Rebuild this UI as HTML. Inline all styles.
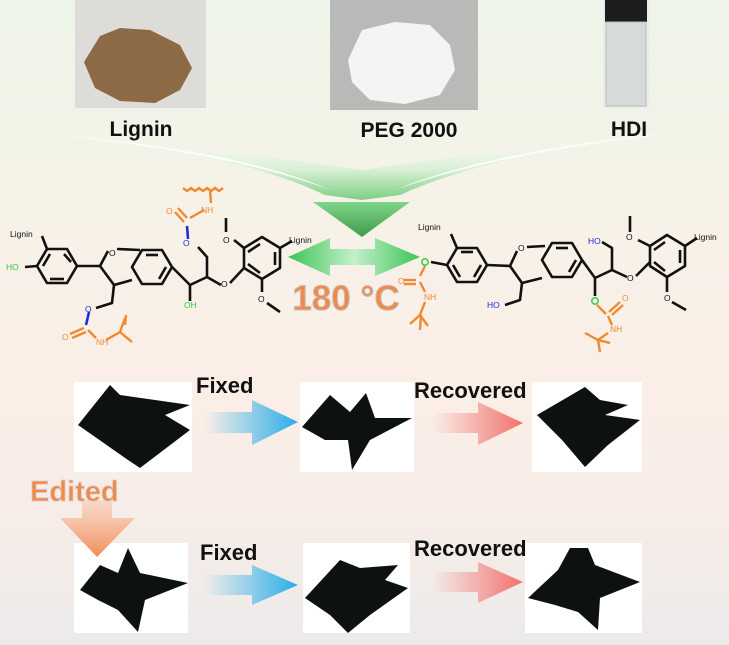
<!DOCTYPE html>
<html><head><meta charset="utf-8"><style>
html,body{margin:0;padding:0}
body{width:729px;height:645px;overflow:hidden;font-family:"Liberation Sans",Arial,sans-serif;
background:linear-gradient(#eef4e9 0px,#f4f3e8 150px,#f8f1e8 250px,#faeee6 400px,#f6ece8 520px,#ecebea 645px);}
</style></head><body>
<svg width="729" height="645" viewBox="0 0 729 645" xmlns="http://www.w3.org/2000/svg" style="position:absolute;left:0;top:0">
<defs>
<linearGradient id="fun" x1="0" y1="0" x2="0" y2="1"><stop offset="0" stop-color="#ffffff" stop-opacity="0.3"/><stop offset="0.55" stop-color="#d6efd4"/><stop offset="1" stop-color="#6fcb78"/></linearGradient>
<linearGradient id="gh" x1="0" y1="0" x2="0" y2="1"><stop offset="0" stop-color="#7fd68a"/><stop offset="1" stop-color="#3f9a4a"/></linearGradient>
<linearGradient id="dbl" x1="0" y1="0" x2="1" y2="0"><stop offset="0" stop-color="#3dc455"/><stop offset="0.5" stop-color="#c4f0cc"/><stop offset="1" stop-color="#3dc455"/></linearGradient>
<linearGradient id="blue" x1="0" y1="0" x2="1" y2="0"><stop offset="0" stop-color="#2eb0ea" stop-opacity="0"/><stop offset="1" stop-color="#29aee8"/></linearGradient>
<linearGradient id="red" x1="0" y1="0" x2="1" y2="0"><stop offset="0" stop-color="#f37a74" stop-opacity="0"/><stop offset="1" stop-color="#f2706c"/></linearGradient>
<linearGradient id="ora" x1="0" y1="0" x2="0" y2="1"><stop offset="0" stop-color="#f8c6a8" stop-opacity="0.5"/><stop offset="1" stop-color="#f28a55"/></linearGradient>
</defs>

<!-- photos -->
<rect x="75" y="0" width="131" height="108" fill="#dedcd9"/>
<path d="M84,62 L100,36 L120,28 L150,30 L180,45 L192,68 L180,90 L155,103 L120,101 L95,88 Z" fill="#8c6a45"/>
<rect x="330" y="0" width="148" height="110" fill="#b9b9b7"/>
<path d="M348,60 L362,30 L395,22 L430,25 L450,45 L455,70 L440,95 L405,104 L370,100 L352,82 Z" fill="#f4f4f2"/>
<rect x="603" y="0" width="46" height="108" fill="#e9ecea"/>
<rect x="605" y="0" width="42" height="22" fill="#1c1c1c"/>
<rect x="606" y="22" width="40" height="84" fill="#d6dad8" stroke="#b8bcbb"/>

<g font-weight="bold" font-size="21" fill="#111" text-anchor="middle">
<text x="141" y="136">Lignin</text>
<text x="409" y="137">PEG 2000</text>
<text x="629" y="136">HDI</text>
</g>

<!-- funnel -->
<path d="M45,134 Q230,150 325,195 L362,200 L400,195 Q500,150 685,132 Q500,150 362,170 Q230,150 45,134 Z" fill="url(#fun)" opacity="0.9"/>
<path d="M45,134 Q230,152 330,190 Q240,150 45,134Z" fill="#fff" opacity="0.9"/>
<path d="M685,132 Q500,152 395,190 Q490,150 685,132Z" fill="#fff" opacity="0.9"/>
<path d="M313,202 L410,202 L362,237 Z" fill="url(#gh)"/>

<!-- double arrow -->
<path d="M288,257 L330,238 L330,249 L375,249 L375,238 L420,257 L375,276 L375,265 L330,265 L330,276 Z" fill="url(#dbl)"/>
<text x="346" y="310" text-anchor="middle" font-size="35" font-weight="bold" fill="#f08a4b" stroke="#c9c0bb" stroke-width="1">180 °C</text>

<!-- left structure -->
<g stroke="#111" stroke-width="2.6" fill="none" stroke-linejoin="round">
<polygon points="77,266 67,249 47,249 37,266 47,283 67,283"/>
<line x1="71" y1="262" x2="64" y2="254"/><line x1="43" y1="266" x2="50" y2="254"/><line x1="50" y1="279" x2="64" y2="279"/>
<line x1="47" y1="249" x2="42" y2="236"/><line x1="37" y1="266" x2="25" y2="267"/>
<line x1="77" y1="266" x2="100" y2="266"/>
<polyline points="100,266 108,251"/><polyline points="117,249 140,250"/>
<polyline points="100,266 114,285 132,280"/>
<polygon points="172,267 162,250 142,250 132,267 142,284 162,284"/>
<line x1="146" y1="255" x2="158" y2="255"/><line x1="166" y1="267" x2="159" y2="279"/>
<polyline points="114,285 112,303 96,308"/>
<polyline points="172,267 190,285 207,277 207,257 198,247"/>
<line x1="190" y1="285" x2="190" y2="301"/>
<polyline points="207,277 221,285"/><polyline points="230,283 244,268"/>
<polygon points="262,237 280,248 280,268 262,279 244,268 244,248"/>
<line x1="248" y1="252" x2="260" y2="244"/><line x1="275" y1="252" x2="275" y2="265"/><line x1="248" y1="264" x2="260" y2="273"/>
<polyline points="244,248 234,240"/><line x1="226" y1="232" x2="226" y2="218"/>
<line x1="262" y1="279" x2="262" y2="292"/><line x1="267" y1="303" x2="280" y2="312"/>
<line x1="280" y1="248" x2="292" y2="241"/>
</g>
<g stroke="#1a2ee0" stroke-width="2.6"><line x1="89" y1="312" x2="86" y2="325"/><line x1="188" y1="239" x2="187" y2="226"/></g>
<g stroke="#f08a30" stroke-width="2.4" fill="none">
<line x1="84" y1="328" x2="70" y2="334"/><line x1="86" y1="332" x2="72" y2="338"/>
<polyline points="88,330 96,338"/><polyline points="106,340 120,332 125,318"/><line x1="120" y1="332" x2="132" y2="342"/><line x1="125" y1="325" x2="126" y2="315"/>
<line x1="184" y1="222" x2="175" y2="212"/><line x1="187" y1="218" x2="178" y2="208"/>
<polyline points="190,218 204,210"/><polyline points="211,203 210,190"/>
<path d="M183,188 l4,3 l4,-3 l4,3 l4,-3 l4,3 l4,-3 l4,3 l4,-3 l4,3 l4,-3" />
</g>
<g font-size="8.5" font-family="Liberation Sans">
<text x="10" y="237" fill="#111">Lignin</text><text x="6" y="270" fill="#2ecc40">HO</text>
<text x="109" y="256" fill="#111">O</text><text x="184" y="308" fill="#2ecc40">OH</text>
<text x="85" y="312" fill="#1a2ee0">O</text><text x="183" y="246" fill="#1a2ee0">O</text>
<text x="62" y="340" fill="#f08a30">O</text><text x="96" y="345" fill="#f08a30">NH</text>
<text x="166" y="214" fill="#f08a30">O</text><text x="201" y="213" fill="#f08a30">NH</text>
<text x="221" y="287" fill="#111">O</text><text x="223" y="243" fill="#111">O</text><text x="258" y="302" fill="#111">O</text>
<text x="289" y="243" fill="#111">Lignin</text>
</g>

<!-- right structure -->
<g stroke="#111" stroke-width="2.6" fill="none" stroke-linejoin="round">
<polygon points="487,265 477,248 457,248 447,265 457,282 477,282"/>
<line x1="473" y1="252" x2="461" y2="252"/><line x1="481" y1="265" x2="474" y2="277"/><line x1="453" y1="265" x2="460" y2="277"/>
<line x1="457" y1="248" x2="451" y2="234"/><line x1="447" y1="265" x2="431" y2="262"/>
<line x1="487" y1="265" x2="510" y2="266"/>
<line x1="510" y1="266" x2="517" y2="251"/><line x1="527" y1="247" x2="545" y2="246"/>
<polyline points="510,266 522,283 542,278"/>
<polygon points="582,260 572,243 552,243 542,260 552,277 572,277"/>
<line x1="556" y1="248" x2="568" y2="248"/><line x1="576" y1="260" x2="569" y2="272"/>
<polyline points="522,283 520,300 505,305"/>
<polyline points="582,260 595,278 612,270 612,248 602,242"/>
<line x1="595" y1="278" x2="595" y2="296"/>
<polyline points="612,270 627,277"/><polyline points="636,276 650,262"/>
<polygon points="667,235 685,246 685,266 667,277 650,266 650,246"/>
<line x1="654" y1="250" x2="665" y2="242"/><line x1="680" y1="250" x2="680" y2="263"/><line x1="654" y1="262" x2="665" y2="271"/>
<line x1="650" y1="246" x2="638" y2="240"/><line x1="630" y1="232" x2="630" y2="216"/>
<line x1="667" y1="277" x2="667" y2="292"/><line x1="672" y1="302" x2="686" y2="310"/>
<line x1="685" y1="246" x2="697" y2="238"/>
</g>
<g stroke="#f08a30" stroke-width="2.4" fill="none">
<line x1="425" y1="266" x2="420" y2="276"/><line x1="416" y1="280" x2="404" y2="280"/><line x1="416" y1="284" x2="404" y2="284"/>
<line x1="420" y1="282" x2="425" y2="292"/><polyline points="425,302 420,315"/><line x1="420" y1="315" x2="410" y2="324"/><line x1="420" y1="315" x2="428" y2="326"/><line x1="421" y1="315" x2="420" y2="330"/>
<line x1="597" y1="305" x2="606" y2="314"/><line x1="609" y1="312" x2="620" y2="302"/><line x1="612" y1="315" x2="623" y2="305"/>
<line x1="608" y1="316" x2="612" y2="325"/><polyline points="608,333 598,340"/><line x1="598" y1="340" x2="585" y2="333"/><line x1="598" y1="340" x2="600" y2="352"/><line x1="598" y1="340" x2="610" y2="343"/>
</g>
<g font-size="8.5" font-family="Liberation Sans">
<text x="418" y="230" fill="#111">Lignin</text>
<circle cx="425" cy="262" r="3.2" fill="none" stroke="#2ecc40" stroke-width="1.5"/>
<text x="398" y="284" fill="#f08a30">O</text><text x="424" y="300" fill="#f08a30">NH</text>
<text x="518" y="251" fill="#111">O</text>
<text x="487" y="308" fill="#1a2ee0">HO</text><text x="588" y="244" fill="#1a2ee0">HO</text>
<circle cx="595" cy="301" r="3.2" fill="none" stroke="#2ecc40" stroke-width="1.5"/>
<text x="622" y="301" fill="#f08a30">O</text><text x="610" y="332" fill="#f08a30">NH</text>
<text x="627" y="281" fill="#111">O</text><text x="626" y="240" fill="#111">O</text><text x="664" y="301" fill="#111">O</text>
<text x="694" y="240" fill="#111">Lignin</text>
</g>

<!-- pinwheel photos -->
<g fill="#fff">
<rect x="74" y="382" width="118" height="90"/><rect x="300" y="382" width="114" height="90"/><rect x="532" y="382" width="110" height="90"/>
<rect x="74" y="543" width="114" height="90"/><rect x="303" y="543" width="107" height="90"/><rect x="525" y="543" width="117" height="90"/>
</g>
<g fill="#0e120f">
<path d="M78,425 L110,385 L120,395 L190,405 L165,415 L190,430 L140,468 L128,460 Z"/>
<path d="M302,427 L330,395 L350,412 L366,393 L375,418 L412,418 L370,440 L352,470 L348,440 L325,440 Z"/>
<path d="M537,415 L585,387 L600,400 L628,405 L605,415 L640,420 L608,445 L585,467 L562,440 Z"/>
<path d="M80,590 L100,565 L118,573 L128,548 L140,573 L188,583 L145,600 L138,632 L118,610 L98,600 Z"/>
<path d="M305,598 L340,560 L360,568 L398,565 L385,580 L408,588 L370,615 L348,633 L330,615 Z"/>
<path d="M528,598 L558,570 L570,548 L588,548 L595,565 L640,582 L600,598 L598,630 L578,612 L555,605 Z"/>
</g>

<!-- labels & arrows -->
<g font-weight="bold" font-size="22" fill="#111">
<text x="196" y="393">Fixed</text><text x="414" y="398">Recovered</text>
<text x="200" y="560">Fixed</text><text x="414" y="556">Recovered</text>
</g>
<path d="M205,412 L252,412 L252,400 L298,422 L252,445 L252,433 L205,433 Z" fill="url(#blue)"/>
<path d="M432,413 L478,413 L478,402 L523,423 L478,445 L478,433 L432,433 Z" fill="url(#red)"/>
<path d="M205,575 L252,575 L252,565 L298,585 L252,605 L252,595 L205,595 Z" fill="url(#blue)"/>
<path d="M432,572 L478,572 L478,562 L523,582 L478,603 L478,592 L432,592 Z" fill="url(#red)"/>
<path d="M82,500 L112,500 L112,518 L135,518 L97,557 L60,518 L82,518 Z" fill="url(#ora)"/>
<text x="30" y="501" font-weight="bold" font-size="29" fill="#f08a4b" stroke="#d9cfc9" stroke-width="0.8">Edited</text>
</svg>
</body></html>
